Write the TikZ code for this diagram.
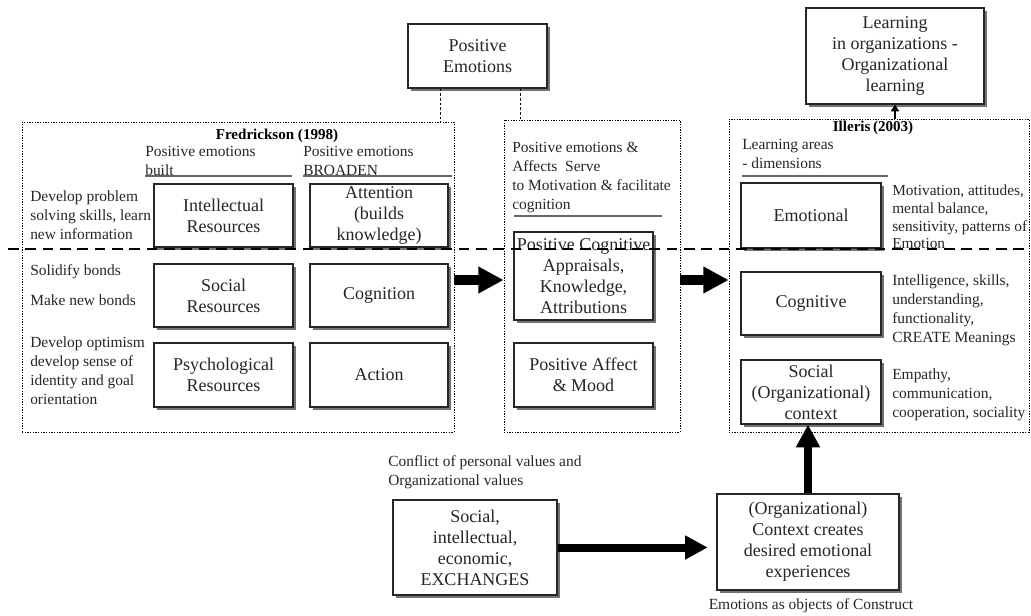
\documentclass[tikz,border=0pt]{standalone}
\usepackage{fontspec}
\setmainfont{Liberation Serif}
\usetikzlibrary{arrows.meta,shadows}
\newdimen\px \px=0.75pt

\tikzset{
  box/.style={draw=black!85, line width=0.9pt, fill=white, align=center, inner sep=0pt,
    font=\fontsize{13.5}{15.75}\selectfont, text=black!85,
    drop shadow={shadow xshift=2.2pt, shadow yshift=-2.2pt, fill=black!55, opacity=1}},
  frame/.style={draw=black, line width=0.6pt, dash pattern=on 1pt off 1pt, inner sep=0pt},
  note/.style={font=\fontsize{11.6}{14.25}\selectfont, text=black!85, align=left, inner sep=0pt},
  tightnote/.style={note, font=\fontsize{11.5}{13.2}\selectfont},
  heading/.style={font=\fontsize{11.3}{14}\selectfont\bfseries, text=black, inner sep=0pt},
  headrule/.style={draw=black!60, line width=0.8pt},
  bigarrow/.style={line width=7.5pt, -{Triangle[length=19pt,width=19pt]}, black},
  midarrow/.style={line width=6pt, -{Triangle[length=17pt,width=17pt]}, black},
  smallarrow/.style={line width=2pt, -{Triangle[length=5pt,width=6pt]}, black},
  tap/.style={draw, line width=0.6pt, dash pattern=on 2pt off 1.5pt},
  divider/.style={line width=1.4pt, dash pattern=on 8pt off 5pt},
}

\begin{document}
\begin{tikzpicture}[x=0.75pt, y=-0.75pt]
\useasboundingbox (0,0) rectangle (1031,615);

% dotted frames of the three panels
\node[frame, minimum width=432\px, minimum height=310\px] (fred) at (238,277) {};
\node[frame, minimum width=176\px, minimum height=312\px] (mid)  at (592,276) {};
\node[frame, minimum width=300\px, minimum height=313\px] (ill)  at (879,275.5) {};

% top boxes
\node[box, minimum width=139\px, minimum height=64\px] (pe) at (477.5,56) {Positive\\Emotions};
\node[box, minimum width=178\px, minimum height=96\px] (learn) at (895,56)
  {Learning\\in organizations -\\Organizational\\learning};

% dashed taps from Positive Emotions into the panels
\coordinate (tapL) at (440,0);
\coordinate (tapR) at (520,0);
\draw[tap] (pe.south -| tapL) -- (fred.north -| tapL);
\draw[tap] (pe.south -| tapR) -- (mid.north -| tapR);

% ---- Fredrickson panel
\node[heading] (fredtitle) at (277,136) {Fredrickson (1998)};
\node[note, anchor=west] (builthd) at (145,161) {Positive emotions\\built};
\node[note, anchor=west] (broadhd) at (303,161) {Positive emotions\\BROADEN};
\coordinate (ruleA1) at (145,176); \coordinate (ruleA2) at (292,176);
\coordinate (ruleB1) at (303,176); \coordinate (ruleB2) at (452,176);
\draw[headrule] (ruleA1) -- (ruleA2);
\draw[headrule] (ruleB1) -- (ruleB2);

\node[note, anchor=west] (devprob) at (30,215.5) {Develop problem\\solving skills, learn\\new information};
\node[note, anchor=west] (solid) at (30,272) {Solidify bonds};
\node[note, anchor=west] (makenew) at (30,300) {Make new bonds};
\node[note, anchor=west] (devopt) at (30,371) {Develop optimism\\develop sense of\\identity and goal\\orientation};

\node[box, minimum width=139\px, minimum height=63\px] (intel) at (223.5,215.5) {Intellectual\\Resources};
\node[box, minimum width=138\px, minimum height=63\px] (attn)  at (379,215.5) {Attention\\(builds\\knowledge)};
\node[box, minimum width=139\px, minimum height=63\px] (socres) at (223.5,295.5) {Social\\Resources};
\node[box, minimum width=138\px, minimum height=63\px] (cogn)  at (379,295.5) {Cognition};
\node[box, minimum width=139\px, minimum height=64\px] (psych) at (223.5,375) {Psychological\\Resources};
\node[box, minimum width=138\px, minimum height=64\px] (action) at (379,375) {Action};

% ---- middle panel
\node[note, anchor=west] (serve) at (512,177.5)
  {Positive emotions \&\\Affects\enspace Serve\\to Motivation \& facilitate\\cognition};
\coordinate (ruleC1) at (514,216); \coordinate (ruleC2) at (662,216);
\draw[headrule] (ruleC1) -- (ruleC2);
\node[box, minimum width=139\px, minimum height=88\px] (pcog) at (583.5,276)
  {Positive Cognitive\\Appraisals,\\Knowledge,\\Attributions};
\node[box, minimum width=139\px, minimum height=64\px] (paff) at (583.5,375) {Positive Affect\\\& Mood};

% ---- Illeris panel
\node[heading] (illtitle) at (873,128) {Illeris\,(2003)};
\node[note, anchor=west] (areas) at (742,154) {Learning areas\\- dimensions};
\coordinate (ruleD1) at (742,176); \coordinate (ruleD2) at (888,176);
\draw[headrule] (ruleD1) -- (ruleD2);

\node[box, minimum width=140\px, minimum height=65\px] (emo) at (811,215.5) {Emotional};
\node[box, minimum width=140\px, minimum height=63\px] (cog) at (811,303.5) {Cognitive};
\node[box, minimum width=140\px, minimum height=64\px] (soc) at (811,392) {Social\\(Organizational)\\context};

\node[tightnote, anchor=west] (emotxt) at (892,217)
  {Motivation, attitudes,\\mental balance,\\sensitivity, patterns of\\Emotion};
\node[note, anchor=west] (cogtxt) at (892,310.5)
  {Intelligence, skills,\\understanding,\\functionality,\\CREATE Meanings};
\node[note, anchor=west] (soctxt) at (892,395)
  {Empathy,\\communication,\\cooperation, sociality};

% ---- bottom row
\node[note, anchor=west] (conflict) at (388,472.5) {Conflict of personal values and\\Organizational values};
\node[box, minimum width=164\px, minimum height=95\px] (exch) at (475,547.5)
  {Social,\\intellectual,\\economic,\\EXCHANGES};
\node[box, minimum width=182\px, minimum height=96\px] (ctx) at (808,542)
  {(Organizational)\\Context creates\\desired emotional\\experiences};
\node[note] (construct) at (811,606) {Emotions as objects of Construct};

% ---- arrows
\coordinate (arrowrow) at (0,280);
\draw[bigarrow] (fred.east |- arrowrow) -- (mid.west |- arrowrow);
\draw[bigarrow] (mid.east |- arrowrow) -- (ill.west |- arrowrow);
\draw[midarrow, shorten >=6.5pt] (exch.east) -- (exch.east -| ctx.west);
\draw[midarrow] (ctx.north) -- (ctx.north |- soc.south);
\draw[smallarrow] (ill.north -| learn.south) -- (learn.south);

% dashed divider across the whole figure
\coordinate (divL) at (8,249);
\coordinate (divR) at (1031,249);
\draw[divider] (divL) -- (divR);
\end{tikzpicture}
\end{document}
